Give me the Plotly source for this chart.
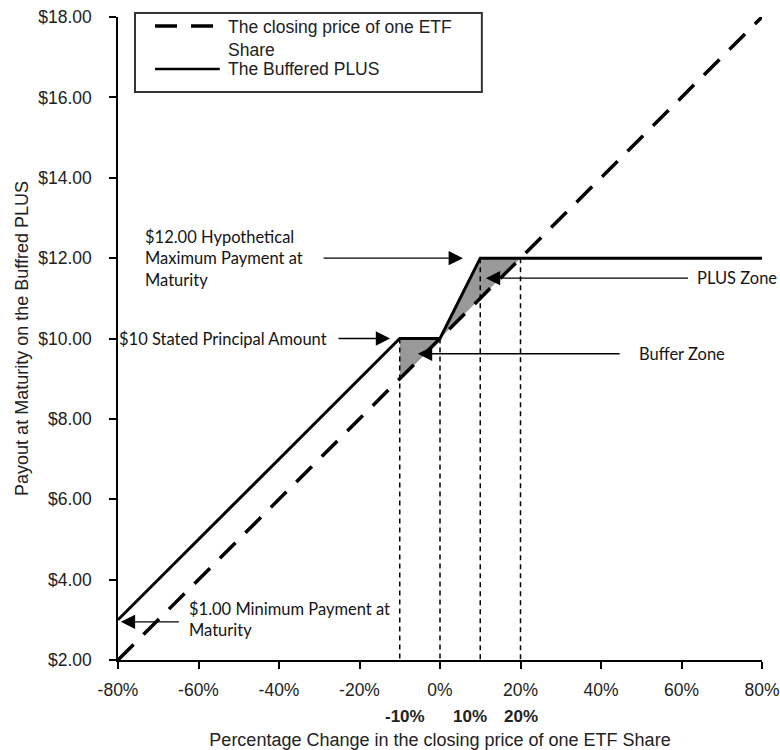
import plotly.graph_objects as go

# ---------------- data ----------------
etf_pct = [-80, 80]
etf_price = [2.0, 18.0]

plus_pct = [-80, -10, 0, 10, 80]
plus_payout = [3.0, 10.0, 10.0, 12.0, 12.0]

buffer_zone_pct = [-10, 0, -10]
buffer_zone_val = [10.0, 10.0, 9.0]

plus_zone_pct = [0, 10, 20]
plus_zone_val = [10.0, 12.0, 12.0]

guide_pct = [-10, 0, 10, 20]
guide_top = [10.0, 10.0, 12.0, 12.0]

x_ticks = [-80, -60, -40, -20, 0, 20, 40, 60, 80]
y_ticks = [2, 4, 6, 8, 10, 12, 14, 16, 18]
extra_x_labels = [-10, 10, 20]
extra_x_shift = [5, -10, 0]

# annotation texts and anchor values
ann_texts = [
    "$12.00 Hypothetical<br>Maximum Payment at<br>Maturity",
    "$10 Stated Principal Amount",
    "PLUS Zone",
    "Buffer Zone",
    "$1.00 Minimum Payment at<br>Maturity",
]
ann_x = [-73.8, -27.6, 63.4, 49.0, -62.9]
ann_y = [12.0, 10.0, 11.5, 9.62, 3.0]
ann_xanchor = ["left", "right", "left", "left", "left"]

arrow_tip_x = [5.7, -12.4, 11.4, -5.5, -79.3]
arrow_tip_y = [12.0, 10.0, 11.5, 9.62, 2.95]
arrow_tail_x = [-29.3, -25.6, 62.0, 45.0, -64.5]

FONT_AX = "Liberation Sans, Arial, sans-serif"
FONT_ANN = "Lato, Open Sans, sans-serif"
TXT = "#222222"

fig = go.Figure()

# shaded zones
fig.add_trace(go.Scatter(x=buffer_zone_pct, y=buffer_zone_val, fill="toself",
                         fillcolor="#999999", line=dict(width=0.8, color="#555555"),
                         mode="lines", showlegend=False, hoverinfo="skip"))
fig.add_trace(go.Scatter(x=plus_zone_pct, y=plus_zone_val, fill="toself",
                         fillcolor="#999999", line=dict(width=0.8, color="#555555"),
                         mode="lines", showlegend=False, hoverinfo="skip"))

# vertical guide lines
gx, gy = [], []
for p, t in zip(guide_pct, guide_top):
    gx += [p, p, None]
    gy += [t, y_ticks[0], None]
fig.add_trace(go.Scatter(x=gx, y=gy, mode="lines",
                         line=dict(color="black", width=1.5, dash="5px,4px"),
                         showlegend=False, hoverinfo="skip"))

# main lines
fig.add_trace(go.Scatter(x=etf_pct, y=etf_price, mode="lines",
                         name="The closing price of one ETF Share",
                         line=dict(color="black", width=3.5, dash="22px,14px"),
                         showlegend=False))
fig.add_trace(go.Scatter(x=plus_pct, y=plus_payout, mode="lines",
                         name="The Buffered PLUS",
                         line=dict(color="black", width=3),
                         showlegend=False))

annotations = []
for t, x, y, xa in zip(ann_texts, ann_x, ann_y, ann_xanchor):
    annotations.append(dict(x=x, y=y, xref="x", yref="y", text=t, showarrow=False,
                            xanchor=xa, yanchor="middle", align="left",
                            font=dict(family=FONT_ANN, size=16.5, color="#141414")))
for tx, ty, ax in zip(arrow_tip_x, arrow_tip_y, arrow_tail_x):
    annotations.append(dict(x=tx, y=ty, xref="x", yref="y", ax=ax, ay=ty,
                            axref="x", ayref="y", text="", showarrow=True,
                            arrowhead=2, arrowsize=2.2, arrowwidth=1.3,
                            arrowcolor="black"))
for v, s in zip(extra_x_labels, extra_x_shift):
    annotations.append(dict(x=v, y=-0.088, xref="x", yref="paper", xshift=s,
                            text=f"<b>{v}%</b>", showarrow=False,
                            xanchor="center", yanchor="middle",
                            font=dict(family=FONT_AX, size=17, color=TXT)))

# manual legend
annotations.append(dict(x=0.1677, y=0.9662, xref="paper", yref="paper",
                        text="The closing price of one ETF<br>Share", showarrow=False,
                        xanchor="left", yanchor="middle", align="left",
                        font=dict(family=FONT_AX, size=17.5, color=TXT)))
annotations.append(dict(x=0.1677, y=0.919, xref="paper", yref="paper",
                        text="The Buffered PLUS", showarrow=False,
                        xanchor="left", yanchor="middle", align="left",
                        font=dict(family=FONT_AX, size=17.5, color=TXT)))

shapes = [
    dict(type="rect", xref="paper", yref="paper", x0=0.0264, x1=0.565,
         y0=0.8834, y1=1.0062, line=dict(color="#333333", width=2),
         fillcolor="white", layer="above"),
    dict(type="line", xref="paper", yref="paper", x0=0.0575, x1=0.158,
         y0=0.986, y1=0.986, line=dict(color="black", width=3.5, dash="22px,14px")),
    dict(type="line", xref="paper", yref="paper", x0=0.0575, x1=0.158,
         y0=0.919, y1=0.919, line=dict(color="black", width=2.5)),
]

fig.update_layout(
    width=780, height=750,
    margin=dict(l=118, r=18, t=17, b=90),
    paper_bgcolor="white", plot_bgcolor="white",
    showlegend=False,
    annotations=annotations,
    shapes=shapes,
    xaxis=dict(range=[-80, 80], tickvals=x_ticks, ticktext=[f"{v}%" for v in x_ticks],
               ticks="outside", ticklen=7, tickwidth=1.5, tickcolor="black",
               showline=True, linecolor="black", linewidth=1.5, automargin=False,
               showgrid=False, zeroline=False, ticklabelstandoff=6,
               tickfont=dict(family=FONT_AX, size=17.5, color=TXT),
               title=dict(text="Percentage Change in the closing price of one ETF Share",
                          font=dict(family=FONT_AX, size=18, color=TXT), standoff=39)),
    yaxis=dict(range=[2, 18], tickvals=y_ticks, ticktext=[f"${v:.2f}" for v in y_ticks],
               ticks="outside", ticklen=7, tickwidth=1.5, tickcolor="black",
               showline=True, linecolor="black", linewidth=1.5, automargin=False,
               showgrid=False, zeroline=False, ticklabelstandoff=14,
               tickfont=dict(family=FONT_AX, size=17.5, color=TXT),
               title=dict(text="Payout at Maturity on the Buffred PLUS",
                          font=dict(family=FONT_AX, size=18, color=TXT), standoff=5)),
)

fig.write_html(
    "out.html",
    config={"displayModeBar": False},
    post_script="document.body.style.margin='0px';document.body.style.overflow='hidden';",
)
